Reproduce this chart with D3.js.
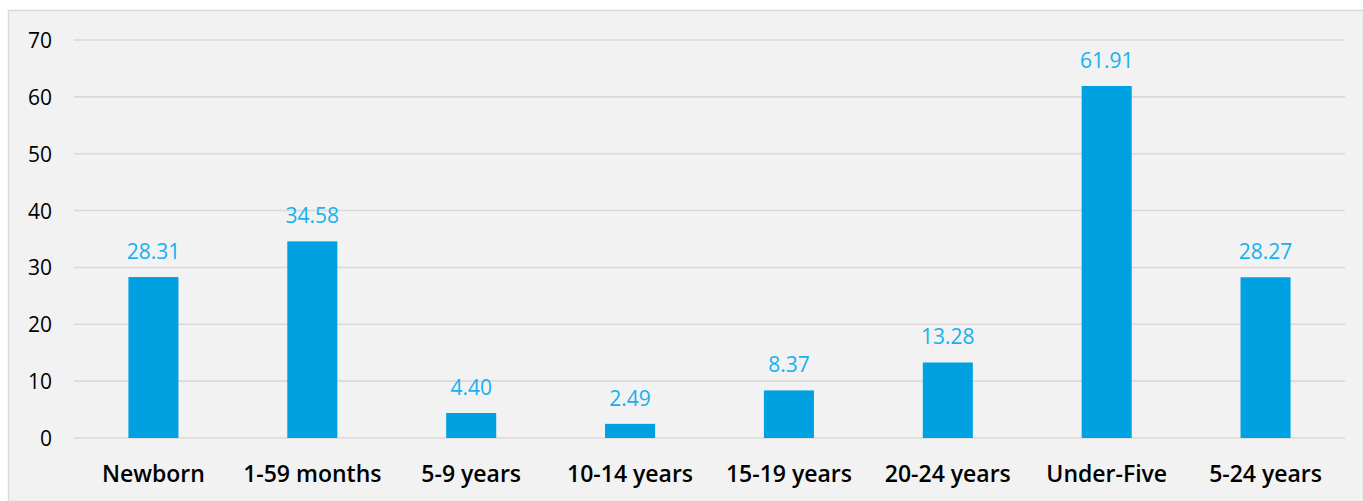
<!DOCTYPE html>
<html>
<head>
<meta charset="utf-8">
<script src="https://cdn.jsdelivr.net/npm/d3@7"></script>
<style>
  html, body { margin: 0; padding: 0; background: #ffffff; }
  svg { display: block; }
</style>
</head>
<body>
<svg id="chart" width="1363" height="501"></svg>
<script>
// Mortality rate by age group
const categories = ["Newborn", "1-59 months", "5-9 years", "10-14 years", "15-19 years", "20-24 years", "Under-Five", "5-24 years"];
const values = [28.31, 34.58, 4.40, 2.49, 8.37, 13.28, 61.91, 28.27];
const yTicks = [0, 10, 20, 30, 40, 50, 60, 70];

const svg = d3.select("#chart");
const W = 1363, H = 501;

// chart area panel
svg.append("rect")
  .attr("x", 8.5).attr("y", 10.5)
  .attr("width", W - 8).attr("height", H - 10)
  .attr("fill", "#f2f2f2")
  .attr("stroke", "#d9d9d9").attr("stroke-width", 1.5);

const plot = { left: 74, right: 1345, top: 40, bottom: 438 };

const x = d3.scaleBand()
  .domain(categories)
  .range([plot.left, plot.right])
  .paddingInner(0.685).paddingOuter(0.3425);

const y = d3.scaleLinear()
  .domain([0, 70])
  .range([plot.bottom, plot.top]);

const font = "'Open Sans', 'Noto Sans', sans-serif";

// gridlines
svg.append("g")
  .selectAll("line")
  .data(yTicks)
  .join("line")
  .attr("x1", plot.left).attr("x2", plot.right)
  .attr("y1", d => y(d)).attr("y2", d => y(d))
  .attr("stroke", "#d9d9d9").attr("stroke-width", 1.6);

// y axis labels
const yAxis = d3.axisLeft(y).tickValues(yTicks).tickSize(0).tickPadding(0);
svg.append("g")
  .attr("transform", `translate(52,0)`)
  .call(yAxis)
  .call(g => g.select(".domain").remove())
  .selectAll("text")
  .attr("dy", "0.36em")
  .attr("font-family", font)
  .attr("font-size", 21)
  .attr("fill", "#000");

// bars
svg.append("g")
  .selectAll("rect")
  .data(values)
  .join("rect")
  .attr("x", (d, i) => x(categories[i]))
  .attr("width", x.bandwidth())
  .attr("y", d => y(d))
  .attr("height", d => y(0) - y(d))
  .attr("fill", "#00a1e1");

// value labels
svg.append("g")
  .selectAll("text")
  .data(values)
  .join("text")
  .attr("x", (d, i) => x(categories[i]) + x.bandwidth() / 2)
  .attr("y", d => y(d) - 18)
  .attr("text-anchor", "middle")
  .attr("font-family", font)
  .attr("font-size", 21)
  .attr("fill", "#17b0f0")
  .text(d => d.toFixed(2));

// x axis labels
const xAxis = d3.axisBottom(x).tickSize(0).tickPadding(0);
svg.append("g")
  .attr("transform", `translate(0,${plot.bottom})`)
  .call(xAxis)
  .call(g => g.select(".domain").remove())
  .selectAll("text")
  .attr("y", 44)
  .attr("dy", 0)
  .attr("font-family", font)
  .attr("font-size", 23)
  .attr("font-weight", 600)
  .attr("fill", "#000");
</script>
</body>
</html>
